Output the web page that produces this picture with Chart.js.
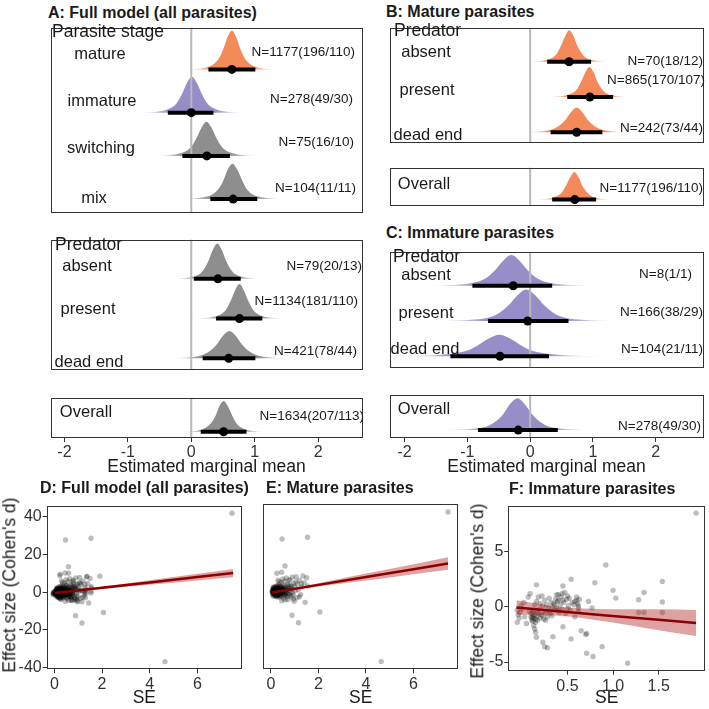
<!DOCTYPE html>
<html>
<head>
<meta charset="utf-8">
<script src="https://cdn.jsdelivr.net/npm/chart.js@4.4.1/dist/chart.umd.min.js"></script>
<style>
  body { margin: 0; background: #fff; }
  #page { position: relative; width: 709px; height: 709px; overflow: hidden;
          font-family: 'Liberation Sans', Arial, sans-serif; color: #1a1a1a; }
  #page canvas { position: absolute; }
  .lbl { position: absolute; white-space: nowrap; line-height: 1; }
</style>
</head>
<body>
<div id="page"></div>
<script>
// ---- A: full model, parasite stage ----
const stageRows = ['mature', 'immature', 'switching', 'mix'];
const stageN = ['N=1177(196/110)', 'N=278(49/30)', 'N=75(16/10)', 'N=104(11/11)'];
const stageMean = [0.64, 0.00, 0.245, 0.66];
const stageLo = [0.27, -0.37, -0.14, 0.30];
const stageHi = [1.01, 0.35, 0.61, 1.04];
const stageDensX = [
  [-0.06, 0.22, 0.36, 0.43, 0.50, 0.57, 0.64, 0.71, 0.78, 0.85, 0.92, 1.06, 1.34],
  [-0.79, -0.47, -0.31, -0.23, -0.15, -0.07, 0.01, 0.09, 0.17, 0.25, 0.33, 0.49, 0.81],
  [-0.56, -0.24, -0.08, 0.00, 0.08, 0.16, 0.24, 0.32, 0.40, 0.48, 0.56, 0.72, 1.04],
  [-0.13, 0.19, 0.34, 0.42, 0.50, 0.57, 0.65, 0.73, 0.81, 0.88, 0.96, 1.12, 1.43]
];
const stageDensH = [
  [0, 0.04, 0.13, 0.24, 0.45, 0.74, 0.90, 0.74, 0.45, 0.24, 0.13, 0.04, 0],
  [0, 0.04, 0.12, 0.22, 0.42, 0.68, 0.83, 0.68, 0.42, 0.22, 0.12, 0.04, 0],
  [0, 0.04, 0.11, 0.21, 0.40, 0.65, 0.79, 0.65, 0.40, 0.21, 0.11, 0.04, 0],
  [0, 0.04, 0.11, 0.22, 0.41, 0.67, 0.82, 0.67, 0.41, 0.22, 0.11, 0.04, 0]
];

// ---- A: full model, predator ----
const predRows = ['absent', 'present', 'dead end'];
const predN = ['N=79(20/13)', 'N=1134(181/110)', 'N=421(78/44)'];
const predMean = [0.42, 0.76, 0.59];
const predLo = [0.04, 0.39, 0.18];
const predHi = [0.78, 1.12, 1.01];
const predDensX = [
  [-0.29, -0.01, 0.13, 0.20, 0.27, 0.34, 0.41, 0.48, 0.55, 0.62, 0.69, 0.83, 1.11],
  [0.06, 0.34, 0.48, 0.55, 0.62, 0.69, 0.76, 0.83, 0.90, 0.97, 1.04, 1.18, 1.46],
  [-0.40, 0.00, 0.20, 0.30, 0.40, 0.50, 0.60, 0.70, 0.80, 0.90, 1.00, 1.20, 1.60]
];
const predDensH = [
  [0, 0.04, 0.12, 0.24, 0.45, 0.73, 0.89, 0.73, 0.45, 0.24, 0.12, 0.04, 0],
  [0, 0.04, 0.12, 0.23, 0.44, 0.71, 0.87, 0.71, 0.44, 0.23, 0.12, 0.04, 0],
  [0, 0.03, 0.10, 0.19, 0.35, 0.57, 0.69, 0.57, 0.35, 0.19, 0.10, 0.03, 0]
];

// ---- A: full model, overall ----
const allN = ['N=1634(207/113)'];
const allMean = [0.51];
const allLo = [0.15];
const allHi = [0.87];
const allDensX = [[-0.17, 0.11, 0.24, 0.31, 0.38, 0.44, 0.51, 0.58, 0.65, 0.71, 0.78, 0.92, 1.19]];
const allDensH = [[0, 0.03, 0.11, 0.21, 0.38, 0.62, 0.76, 0.62, 0.38, 0.21, 0.11, 0.03, 0]];

// ---- B: mature parasites ----
const matPredN = ['N=70(18/12)', 'N=865(170/107)', 'N=242(73/44)'];
const matPredMean = [0.62, 0.95, 0.74];
const matPredLo = [0.27, 0.59, 0.325];
const matPredHi = [0.97, 1.32, 1.15];
const matPredDensX = [
  [-0.03, 0.23, 0.36, 0.43, 0.49, 0.56, 0.62, 0.69, 0.75, 0.82, 0.88, 1.01, 1.27],
  [0.29, 0.55, 0.68, 0.75, 0.81, 0.88, 0.94, 1.01, 1.07, 1.14, 1.20, 1.33, 1.59],
  [-0.16, 0.20, 0.38, 0.47, 0.56, 0.65, 0.74, 0.83, 0.92, 1.01, 1.10, 1.28, 1.64]
];
const matPredDensH = [
  [0, 0.04, 0.12, 0.24, 0.45, 0.73, 0.89, 0.73, 0.45, 0.24, 0.12, 0.04, 0],
  [0, 0.04, 0.12, 0.23, 0.43, 0.70, 0.85, 0.70, 0.43, 0.23, 0.12, 0.04, 0],
  [0, 0.03, 0.10, 0.19, 0.35, 0.57, 0.70, 0.57, 0.35, 0.19, 0.10, 0.03, 0]
];
const matAllN = ['N=1177(196/110)'];
const matAllMean = [0.71];
const matAllLo = [0.35];
const matAllHi = [1.05];
const matAllDensX = [[0.05, 0.31, 0.44, 0.51, 0.57, 0.64, 0.70, 0.77, 0.83, 0.90, 0.96, 1.09, 1.35]];
const matAllDensH = [[0, 0.03, 0.11, 0.21, 0.38, 0.62, 0.76, 0.62, 0.38, 0.21, 0.11, 0.03, 0]];

// ---- C: immature parasites ----
const immPredN = ['N=8(1/1)', 'N=166(38/29)', 'N=104(21/11)'];
const immPredMean = [-0.27, -0.04, -0.48];
const immPredLo = [-0.92, -0.67, -1.27];
const immPredHi = [0.35, 0.61, 0.30];
const immPredDensX = [
  [-1.60, -1.08, -0.82, -0.69, -0.56, -0.43, -0.30, -0.17, -0.04, 0.09, 0.22, 0.48, 1.00],
  [-1.46, -0.90, -0.62, -0.48, -0.34, -0.20, -0.06, 0.08, 0.22, 0.36, 0.50, 0.78, 1.34],
  [-2.19, -1.51, -1.17, -1.00, -0.83, -0.66, -0.49, -0.32, -0.15, 0.02, 0.19, 0.53, 1.21]
];
const immPredDensH = [
  [0, 0.04, 0.12, 0.23, 0.44, 0.71, 0.87, 0.71, 0.44, 0.23, 0.12, 0.04, 0],
  [0, 0.04, 0.12, 0.24, 0.45, 0.73, 0.89, 0.73, 0.45, 0.24, 0.12, 0.04, 0],
  [0, 0.03, 0.09, 0.16, 0.31, 0.50, 0.61, 0.50, 0.31, 0.16, 0.09, 0.03, 0]
];
const immAllN = ['N=278(49/30)'];
const immAllMean = [-0.19];
const immAllLo = [-0.83];
const immAllHi = [0.44];
const immAllDensX = [[-1.35, -0.89, -0.66, -0.55, -0.43, -0.32, -0.20, -0.09, 0.03, 0.15, 0.26, 0.49, 0.95]];
const immAllDensH = [[0, 0.04, 0.11, 0.21, 0.39, 0.64, 0.78, 0.64, 0.39, 0.21, 0.11, 0.04, 0]];

// ---- tick labels ----
const meanTicks = [-2, -1, 0, 1, 2];
const seTicksDE = [0, 2, 4, 6];
const effTicksDE = [-40, -20, 0, 20, 40];
const seTicksF = [0.5, 1.0, 1.5];
const effTicksF = [-5, 0, 5];

// ---- scatter: mature effect sizes (E) ----
const matSE = [
  0.05,0.06,0.07,0.08,0.08,0.09,0.1,0.1,0.11,0.12,
  0.12,0.13,0.14,0.14,0.15,0.15,0.16,0.17,0.17,0.18,
  0.18,0.19,0.2,0.2,0.21,0.22,0.22,0.23,0.24,0.24,
  0.25,0.26,0.26,0.27,0.28,0.28,0.29,0.3,0.3,0.31,
  0.32,0.33,0.34,0.35,0.35,0.36,0.37,0.38,0.39,0.4,
  0.41,0.42,0.43,0.44,0.45,0.46,0.47,0.48,0.5,0.51,
  0.52,0.54,0.55,0.56,0.58,0.59,0.6,0.62,0.63,0.65,
  0.66,0.68,0.7,
  0.72,0.74,0.76,0.78,0.8,0.82,0.85,0.88,0.9,0.92,
  0.95,0.98,1.0,1.03,1.06,1.1,1.12,1.15,1.2,1.25,
  1.3,1.35,1.4,1.44,1.5,1.55,
  0.09,0.11,0.13,0.14,0.16,0.17,0.19,0.19,0.21,0.23,
  0.24,0.25,0.27,0.28,0.29,0.31,0.33,0.34,0.36,0.38,
  0.4,0.41,0.43,0.46,0.12,0.15,0.2,0.26,0.32,0.37,
  0.07,0.09,0.1,0.11,0.13,0.14,0.16,0.18,0.2,0.21,
  0.22,0.24,0.26,0.28,0.3,0.32,0.34,0.36,0.38,0.4,
  0.42,0.44,0.46,0.48,0.5,0.52,0.54,0.56,0.58,0.6,
  0.62,0.64,0.67,0.7,0.73,0.76,0.8,0.84,0.88,0.93,
  0.35,0.5,0.6,0.75,0.95,1.05,1.2,1.28,0.45,0.3,
  0.47,1.54,0.59,0.89,1.16,2.06,4.64,7.45,0.45,0.25
];
const matD = [
  0.2,-0.4,0.8,-0.9,0.3,1.2,-0.2,0.6,-1.1,0.1,
  1.6,-0.6,0.4,-1.6,0.9,-0.1,2.1,-0.8,0.5,-2.2,
  1.1,0.0,-1.3,0.7,2.6,-0.5,1.4,-2.8,0.2,-1.0,
  3.1,0.9,-1.8,-0.3,1.8,0.4,-2.4,1.0,-0.7,2.3,
  -1.4,0.6,3.8,-0.2,1.5,-3.0,0.8,-0.9,2.7,0.1,
  -1.9,1.3,4.6,-0.4,0.9,-2.6,2.0,0.3,-1.2,3.4,
  1.1,-3.5,0.0,5.5,1.7,-1.6,2.9,0.5,-2.2,7.1,
  1.2,-0.6,4.0,
  -4.2,2.2,0.7,-1.8,6.3,3.0,-2.9,1.4,7.6,-0.8,
  4.3,-5.1,2.6,0.4,7.8,-3.3,3.9,1.0,6.0,-1.6,
  2.4,8.2,4.6,-5.7,7.3,2.9,
  -0.1,0.5,-0.3,0.9,-0.5,0.2,-0.7,0.6,-0.1,0.9,
  -0.4,0.5,-0.9,0.0,0.7,-0.3,0.2,-0.6,0.4,0.1,
  -0.5,0.7,-0.2,0.3,-0.8,0.3,0.1,-0.2,0.9,-0.1,
  -1.5,2.0,-2.5,1.8,2.5,-2.0,1.3,-1.4,2.0,-2.0,
  0.3,1.6,-2.6,2.8,-1.9,1.9,-1.1,2.3,-2.2,1.7,
  -1.3,2.4,-0.9,1.5,0.5,-0.7,2.0,-1.8,0.4,-0.5,
  1.6,-1.1,0.9,-2.6,3.4,-1.2,1.8,-0.4,2.8,-2.1,
  5.2,6.6,-4.4,5.8,-3.9,5.0,-2.7,4.1,-4.8,6.0,
  27.7,28.6,13.5,-12.5,-16.4,-10.8,-36.9,41.9,10.2,9.6
];

// ---- scatter: immature effect sizes (F) ----
const immSE = [
  -0.05,-0.04,-0.03,-0.02,-0.05,-0.01,0.0,0.02,0.03,0.05,
  0.07,0.08,0.09,0.1,0.11,0.12,0.12,0.13,0.13,0.14,
  0.14,0.15,0.15,0.16,0.16,0.17,0.18,0.19,0.2,0.21,
  0.22,0.23,0.23,0.24,0.25,0.25,0.26,0.27,0.28,0.29,
  0.3,0.31,0.32,0.33,0.34,0.35,0.36,0.37,0.38,0.38,
  0.39,0.4,0.41,0.42,0.43,0.44,0.45,0.45,0.46,0.47,
  0.48,0.49,0.5,0.51,0.52,0.53,0.54,0.54,0.55,0.57,
  0.58,0.6,0.61,0.62,0.62,0.63,0.65,0.7,0.71,0.71,
  0.73,0.77,0.78,0.8,0.88,0.92,1.0,1.03,1.16,1.28,
  1.28,1.34,1.34,1.54,1.54,1.54,1.91,0.16,
  0.1,0.11,0.12,0.13,0.14,0.15,0.16,0.17,0.18,0.2,
  0.22,0.24,0.26,0.28,0.3,0.33,0.36,0.4,0.45,0.5,
  0.58,0.6,0.62,0.4,0.44
];
const immD = [
  -0.3,-0.7,-1.0,-0.5,-1.4,0.1,-0.2,0.4,-0.9,-1.5,
  0.9,-0.4,1.2,-0.6,-1.0,-0.8,-1.3,-1.7,-0.3,-2.0,
  0.2,-2.3,-1.1,0.5,-2.75,-0.5,0.9,-0.2,0.3,-0.7,
  1.0,-3.2,0.1,-0.4,-3.6,0.6,-1.2,0.2,-3.7,-0.1,
  0.8,-0.6,0.4,0.0,-2.7,0.3,-0.3,0.7,1.1,-0.1,
  0.5,1.1,-0.5,0.2,0.9,-0.2,1.9,-1.8,0.4,1.3,
  -0.6,0.7,1.0,0.1,0.8,-0.3,2.5,-2.9,0.4,0.2,
  -0.9,0.6,0.3,0.1,-0.4,0.7,-2.15,-2.5,-2.4,-4.2,
  0.5,-0.1,-4.5,2.2,-3.6,3.8,1.5,0.8,-5.1,0.65,
  -0.5,1.3,-0.5,2.3,0.45,-0.5,8.5,2.0,
  -0.9,-1.2,-0.5,-1.0,-0.7,-1.4,-0.9,-1.2,-0.6,-1.0,
  -0.8,-1.1,-0.6,-0.9,-0.4,-0.8,0.2,-0.3,0.6,-0.2,
  0.5,0.9,-0.1,0.6,1.2
];

// ---- scatter: switching / mix effect sizes (only in D) ----
const otherSE = [0.1,0.15,0.2,0.25,0.3,0.35,0.4,0.45,0.5,0.55,0.6,0.65,0.7,0.75,0.8,0.85,0.9,1.0,1.1,1.2,0.23,1.37,0.95,1.3,0.18];
const otherD = [0.5,-0.6,1.4,-1.2,2.2,-0.4,0.9,-2.0,3.6,0.3,10.0,-1.5,2.8,-0.2,5.0,-3.8,1.9,-2.4,4.8,0.6,8.7,8.4,-4.7,-3.0,-2.9];

// ---- regression fits ----
const allFitX = [0.02, 0.5, 2, 4, 6, 7.5];
const allFitY = [-0.5, 0.18, 2.31, 5.15, 7.99, 10.12];
const allFitLo = [-1.0, -0.22, 1.71, 3.95, 6.24, 7.92];
const allFitHi = [0.0, 0.58, 2.91, 6.35, 9.74, 12.32];
const matFitX = [0.05, 0.5, 2, 4, 6, 7.45];
const matFitY = [-0.5, 0.43, 3.52, 7.64, 11.76, 14.75];
const matFitLo = [-1.1, -0.07, 2.62, 5.84, 9.16, 11.45];
const matFitHi = [0.1, 0.93, 4.42, 9.44, 14.36, 18.05];
const immFitX = [-0.06, 0.4, 0.96, 1.5, 1.91];
const immFitY = [-0.06, -0.39, -0.79, -1.17, -1.46];
const immFitLo = [-0.72, -0.79, -1.37, -2.12, -2.64];
const immFitHi = [0.6, 0.01, -0.21, -0.22, -0.28];

// colours
const ORANGE = '244,137,90';
const PURPLE = '150,141,201';
const GRAY = '142,142,142';

const page = document.getElementById('page');

function addCanvas(left, top, w, h) {
  const c = document.createElement('canvas');
  c.width = w; c.height = h;
  c.style.left = left + 'px'; c.style.top = top + 'px';
  c.style.width = w + 'px'; c.style.height = h + 'px';
  page.appendChild(c);
  return c;
}

function addText(text, x, y, size, align, bold) {
  const d = document.createElement('div');
  d.className = 'lbl';
  d.textContent = text;
  d.style.fontSize = size + 'px';
  if (bold) d.style.fontWeight = 'bold';
  d.style.top = y + 'px';
  if (align === 'right') {
    d.style.right = (709 - x) + 'px';
    d.style.transform = 'translateY(-50%)';
  } else if (align === 'center') {
    d.style.left = x + 'px';
    d.style.transform = 'translate(-50%,-50%)';
  } else if (align === 'vert') {
    d.style.left = x + 'px';
    d.style.transform = 'translate(-50%,-50%) rotate(-90deg)';
  } else {
    d.style.left = x + 'px';
    d.style.transform = 'translateY(-50%)';
  }
  page.appendChild(d);
}

// panel border
const boxBorder = {
  id: 'boxBorder',
  afterDatasetsDraw(chart) {
    const {ctx, chartArea: a} = chart;
    const l = Math.round(a.left), t = Math.round(a.top);
    const r = Math.round(a.right), b = Math.round(a.bottom);
    ctx.save();
    ctx.strokeStyle = '#333';
    ctx.lineWidth = 1;
    ctx.strokeRect(l + 0.5, t + 0.5, r - l - 1, b - t - 1);
    ctx.restore();
  }
};

// density fill fading out in the tails
function fade(rgb, x0, x1) {
  return (ctx) => {
    const chart = ctx.chart;
    if (!chart.chartArea) return 'rgb(' + rgb + ')';
    const sx = chart.scales.x;
    const g = chart.ctx.createLinearGradient(sx.getPixelForValue(x0), 0, sx.getPixelForValue(x1), 0);
    g.addColorStop(0, 'rgba(' + rgb + ',0)');
    g.addColorStop(0.28, 'rgba(' + rgb + ',1)');
    g.addColorStop(0.72, 'rgba(' + rgb + ',1)');
    g.addColorStop(1, 'rgba(' + rgb + ',0)');
    return g;
  };
}

const baseOpts = {
  responsive: false,
  devicePixelRatio: 1,
  animation: false,
  events: [],
  plugins: { legend: { display: false }, tooltip: { enabled: false } }
};

function ridgeChart(o) {
  const cv = addCanvas(o.pos[0], o.pos[1], o.pos[2], o.pos[3]);
  const n = o.mean.length;
  const ds = [];
  o.densX.forEach((xs, i) => {
    const base = n - i;
    ds.push({
      type: 'line',
      data: xs.map((x, j) => ({ x: x, y: base + o.densH[i][j] })),
      fill: { value: base },
      backgroundColor: fade(o.colors[i], xs[0], xs[xs.length - 1]),
      borderWidth: 0,
      pointRadius: 0,
      cubicInterpolationMode: 'monotone',
      order: 3
    });
  });
  // reference line at zero
  ds.push({
    type: 'line',
    data: [{ x: 0, y: o.y[0] }, { x: 0, y: o.y[1] }],
    borderColor: '#b8b8b8', borderWidth: 2, pointRadius: 0, order: 2
  });
  // intervals
  o.mean.forEach((m, i) => {
    ds.push({
      type: 'line',
      data: [{ x: o.lo[i], y: n - i }, { x: o.hi[i], y: n - i }],
      borderColor: '#000', borderWidth: 4, borderCapStyle: 'butt', pointRadius: 0, order: 1
    });
  });
  // point estimates
  ds.push({
    type: 'scatter',
    data: o.mean.map((m, i) => ({ x: m, y: n - i })),
    pointRadius: 4.5, pointBackgroundColor: '#000', pointBorderWidth: 0, order: 0
  });

  new Chart(cv, {
    type: 'scatter',
    data: { datasets: ds },
    options: Object.assign({}, baseOpts, {
      layout: { padding: 0 },
      scales: {
        x: {
          type: 'linear', min: o.x[0], max: o.x[1], display: !!o.axisH,
          afterBuildTicks: (s) => { s.ticks = meanTicks.map(v => ({ value: v })); },
          afterFit: (s) => { if (o.axisH) s.height = o.axisH; },
          grid: { drawOnChartArea: false, drawTicks: true, tickLength: 4, color: '#333' },
          border: { display: false },
          ticks: { font: { size: 16 }, color: '#333', padding: 1, maxRotation: 0, autoSkip: false,
                   callback: (v) => String(v) },
          title: { display: true, text: 'Estimated marginal mean', font: { size: 17.5 }, color: '#1a1a1a',
                   padding: { top: 0, bottom: 1 } }
        },
        y: { type: 'linear', min: o.y[0], max: o.y[1], display: false }
      }
    }),
    plugins: [boxBorder]
  });
}

function scatterChart(o) {
  const cv = addCanvas(o.pos[0], o.pos[1], o.pos[2], o.pos[3]);
  const ds = [
    {
      type: 'scatter',
      data: o.se.map((x, i) => ({ x: x, y: o.d[i] })),
      pointRadius: 2.7, pointBackgroundColor: 'rgba(0,0,0,0.26)', pointBorderWidth: 0, order: 3
    },
    {
      type: 'line',
      data: o.fitX.map((x, i) => ({ x: x, y: o.fitLo[i] })),
      borderWidth: 0, pointRadius: 0, fill: false, cubicInterpolationMode: 'monotone', order: 2
    },
    {
      type: 'line',
      data: o.fitX.map((x, i) => ({ x: x, y: o.fitHi[i] })),
      borderWidth: 0, pointRadius: 0, fill: '-1', cubicInterpolationMode: 'monotone',
      backgroundColor: 'rgba(178,34,34,0.42)', order: 2
    },
    {
      type: 'line',
      data: o.fitX.map((x, i) => ({ x: x, y: o.fitY[i] })),
      borderColor: '#8b0000', borderWidth: 2.5, pointRadius: 0, order: 1
    }
  ];

  new Chart(cv, {
    type: 'scatter',
    data: { datasets: ds },
    options: Object.assign({}, baseOpts, {
      layout: { padding: { left: o.padL, top: o.padT, right: o.padR, bottom: 0 } },
      scales: {
        x: {
          type: 'linear', min: o.x[0], max: o.x[1],
          afterBuildTicks: (s) => { s.ticks = o.xTicks.map(v => ({ value: v })); },
          afterFit: (s) => { s.height = o.xh; },
          grid: { drawOnChartArea: false, drawTicks: true, tickLength: 4, color: '#333' },
          border: { display: false },
          ticks: { font: { size: 16 }, color: '#333', padding: 2, maxRotation: 0, autoSkip: false,
                   callback: o.xFmt },
          title: { display: true, text: 'SE', font: { size: 17.5 }, color: '#1a1a1a', padding: 0 }
        },
        y: {
          type: 'linear', min: o.y[0], max: o.y[1], display: o.yw > 0,
          afterBuildTicks: (s) => { s.ticks = o.yTicks.map(v => ({ value: v })); },
          afterFit: (s) => { s.width = o.yw; },
          grid: { drawOnChartArea: false, drawTicks: true, tickLength: 4, color: '#333' },
          border: { display: false },
          ticks: { font: { size: 16 }, color: '#333', padding: 1, autoSkip: false,
                   callback: (v) => String(v) }
        }
      }
    }),
    plugins: [boxBorder]
  });
}

const xA = [-2.22, 2.70];
const xBC = [-2.24, 2.76];

// A
ridgeChart({ pos: [46, 23, 321, 194], x: xA, y: [0.69, 4.97], mean: stageMean, lo: stageLo, hi: stageHi,
  densX: stageDensX, densH: stageDensH, colors: [ORANGE, PURPLE, GRAY, GRAY] });
ridgeChart({ pos: [46, 235, 321, 139], x: xA, y: [0.72, 3.99], mean: predMean, lo: predLo, hi: predHi,
  densX: predDensX, densH: predDensH, colors: [GRAY, GRAY, GRAY] });
ridgeChart({ pos: [46, 393, 321, 86], x: xA, y: [0.845, 1.845], mean: allMean, lo: allLo, hi: allHi,
  densX: allDensX, densH: allDensH, colors: [GRAY], axisH: 41 });
// B
ridgeChart({ pos: [385, 23, 323, 124], x: xBC, y: [0.71, 3.97], mean: matPredMean, lo: matPredLo, hi: matPredHi,
  densX: matPredDensX, densH: matPredDensH, colors: [ORANGE, ORANGE, ORANGE] });
ridgeChart({ pos: [385, 163, 323, 47], x: xBC, y: [0.838, 1.882], mean: matAllMean, lo: matAllLo, hi: matAllHi,
  densX: matAllDensX, densH: matAllDensH, colors: [ORANGE] });
// C
ridgeChart({ pos: [385, 247, 323, 125], x: xBC, y: [0.68, 3.97], mean: immPredMean, lo: immPredLo, hi: immPredHi,
  densX: immPredDensX, densH: immPredDensH, colors: [PURPLE, PURPLE, PURPLE] });
ridgeChart({ pos: [385, 390, 323, 89], x: xBC, y: [0.807, 1.873], mean: immAllMean, lo: immAllLo, hi: immAllHi,
  densX: immAllDensX, densH: immAllDensH, colors: [PURPLE], axisH: 41 });

// D, E, F
scatterChart({ pos: [0, 495, 246, 214], x: [-0.32, 7.87], y: [-40.95, 45.95],
  se: matSE.concat(immSE, otherSE), d: matD.concat(immD, otherD),
  fitX: allFitX, fitY: allFitY, fitLo: allFitLo, fitHi: allFitHi,
  xTicks: seTicksDE, yTicks: effTicksDE, xFmt: (v) => String(v),
  yw: 46.7, padL: 0, padT: 9.3, padR: 0, xh: 39.7 });
scatterChart({ pos: [250, 495, 212, 214], x: [-0.32, 7.87], y: [-40.95, 45.95],
  se: matSE, d: matD,
  fitX: matFitX, fitY: matFitY, fitLo: matFitLo, fitHi: matFitHi,
  xTicks: seTicksDE, yTicks: effTicksDE, xFmt: (v) => String(v),
  yw: 0, padL: 13.3, padT: 9.3, padR: 0.3, xh: 39.7 });
scatterChart({ pos: [470, 495, 239, 214], x: [-0.149, 2.008], y: [-5.78, 9.18],
  se: immSE, d: immD,
  fitX: immFitX, fitY: immFitY, fitLo: immFitLo, fitHi: immFitHi,
  xTicks: seTicksF, yTicks: effTicksF, xFmt: (v) => v.toFixed(1),
  yw: 38.3, padL: 0, padT: 10, padR: 2.3, xh: 38.3 });

// ---- text: titles, headers, row labels, sample sizes ----
const panelTitles = [
  ['A: Full model (all parasites)', 48, 13],
  ['B: Mature parasites', 386, 12],
  ['C: Immature parasites', 386, 233],
  ['D: Full model (all parasites)', 40, 488],
  ['E: Mature parasites', 266, 488],
  ['F: Immature parasites', 509, 489]
];
panelTitles.forEach(t => addText(t[0], t[1], t[2], 16, 'left', true));

const headers = [['Parasite stage', 52, 32], ['Predator', 55, 245], ['Predator', 394, 31], ['Predator', 393, 257]];
headers.forEach(t => addText(t[0], t[1], t[2], 17.5, 'left'));

function rowText(names, nLabels, namePos, nPos) {
  names.forEach((s, i) => addText(s, namePos[i][0], namePos[i][1], 16.5, 'center'));
  nLabels.forEach((s, i) => addText(s, nPos[i][0], nPos[i][1], 13.5, 'right'));
}
rowText(stageRows, stageN, [[100, 53], [102, 100], [101, 147], [94, 197]],
        [[355, 52], [353, 99], [354, 142], [356, 188]]);
rowText(predRows, predN, [[87, 265], [88, 308], [89, 361]], [[362, 266], [358, 301], [357, 351]]);
rowText(['Overall'], allN, [[86, 411]], [[364, 416]]);
rowText(predRows, matPredN, [[426, 51], [427, 89], [428, 134]], [[703, 61], [705, 80], [703, 128]]);
rowText(['Overall'], matAllN, [[424, 183]], [[703, 188]]);
rowText(predRows, immPredN, [[426, 274], [426, 312], [425, 348]], [[692, 274], [703, 312], [703, 349]]);
rowText(['Overall'], immAllN, [[424, 408]], [[701, 426]]);

addText("Effect size (Cohen's d)", 9.5, 585, 17.5, 'vert');
addText("Effect size (Cohen's d)", 477.5, 591, 17.5, 'vert');
</script>
</body>
</html>
